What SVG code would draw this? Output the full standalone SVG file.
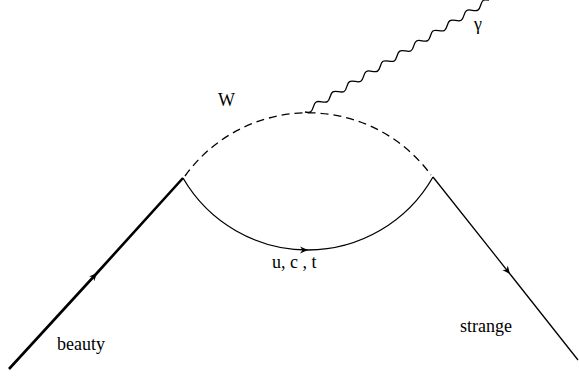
<svg xmlns="http://www.w3.org/2000/svg" width="579" height="377" viewBox="0 0 579 377">
<style>
.ln{fill:none;stroke:#000;stroke-width:1.3}
</style>
<defs>
<marker id="arr" markerUnits="userSpaceOnUse" markerWidth="12" markerHeight="10" viewBox="-9 -5 12 10" refX="0" refY="0" orient="auto">
<path d="M-8,-3.5 L0,0 L-8,3.5 L-5.5,0 z" fill="#000"/>
</marker>
</defs>
<rect width="579" height="377" fill="#fff"/>
<g id="connectors">
<polyline id="beauty-line" class="ln" style="stroke-width:2.6" points="9,369 97,273 183,178" marker-mid="url(#arr)"/>
<polyline id="strange-line" class="ln" points="433,177 510,274 578,360" marker-mid="url(#arr)"/>
<path id="quark-loop" class="ln" d="M183,178 A144.5,144.5 0 0 0 308,250 A144.5,144.5 0 0 0 433,177" marker-mid="url(#arr)"/>
<path id="w-loop" class="ln" stroke-dasharray="8 5" d="M185,176 A152,152 0 0 1 431,175"/>
<path id="photon" class="ln" transform="translate(305,112) rotate(-31.3)" d="M0,0 c4.15,3.7 5.64,3.7 9.79,0 s5.64,-3.7 9.79,0 s5.64,3.7 9.79,0 s5.64,-3.7 9.79,0 s5.64,3.7 9.79,0 s5.64,-3.7 9.79,0 s5.64,3.7 9.79,0 s5.64,-3.7 9.79,0 s5.64,3.7 9.79,0 s5.64,-3.7 9.79,0 s5.64,3.7 9.79,0 s5.64,-3.7 9.79,0 s5.64,3.7 9.79,0 s5.64,-3.7 9.79,0 s5.64,3.7 9.79,0 s5.64,-3.7 9.79,0 s5.64,3.7 9.79,0 s5.64,-3.7 9.79,0 s5.64,3.7 9.79,0 s5.64,-3.7 9.79,0 s5.64,3.7 9.79,0 s5.64,-3.7 9.79,0"/>
</g>
<g font-family="'Liberation Serif', 'Times New Roman', serif" font-size="18" fill="#000">
<g id="label-beauty"><text x="57" y="350">beauty</text></g>
<g id="label-strange"><text x="460" y="332">strange</text></g>
<g id="label-quarks"><text x="272" y="268">u, c , t</text></g>
<g id="label-W"><text x="218" y="106">W</text></g>
<g id="label-gamma"><text x="474" y="30">γ</text></g>
</g>
</svg>
